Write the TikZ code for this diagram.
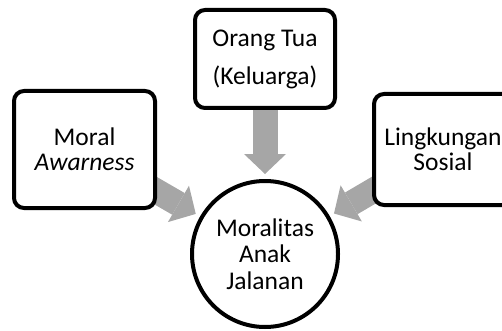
\documentclass[tikz,border=0pt]{standalone}
\usepackage{fontspec}
\setmainfont{Carlito}
\usetikzlibrary{arrows.meta,backgrounds}
\definecolor{arrowgray}{HTML}{A6A6A6}
\begin{document}
\begin{tikzpicture}[x=1pt,y=-1pt,
  box/.style={draw, fill=white, line width=4pt, rounded corners=10pt, align=center,
    font=\fontsize{25.5}{25}\selectfont, inner sep=0pt},
  hub/.style={draw, fill=white, circle, line width=4pt, inner sep=0pt, align=center,
    font=\fontsize{25.5}{26.5}\selectfont},
  bigarrow/.style={draw=arrowgray, line width=25pt,
    -{Triangle[length=20pt,width=42pt,line width=0pt]}, shorten >=5pt}]
\useasboundingbox (0,0) rectangle (502,331);
\node[box, minimum width=141pt, minimum height=117pt] (ml) at (84.5,149.5) {Moral\\\textit{Awarness}};
\node[box, minimum width=140pt, minimum height=98pt, font=\fontsize{25.5}{38}\selectfont] (ot) at (265,59) {Orang Tua\\(Keluarga)};
\node[box, minimum width=138pt, minimum height=111pt] (ls) at (443,149.5) {Lingkungan\\Sosial};
\node[hub, minimum size=146pt] (mj) at (265,254) {Moralitas\\Anak\\Jalanan};
\begin{scope}[on background layer]
  \draw[bigarrow] (ml.center) -- (mj);
  \draw[bigarrow] (ot.center) -- (mj);
  \draw[bigarrow] (ls.center) -- (mj);
\end{scope}
\end{tikzpicture}
\end{document}
